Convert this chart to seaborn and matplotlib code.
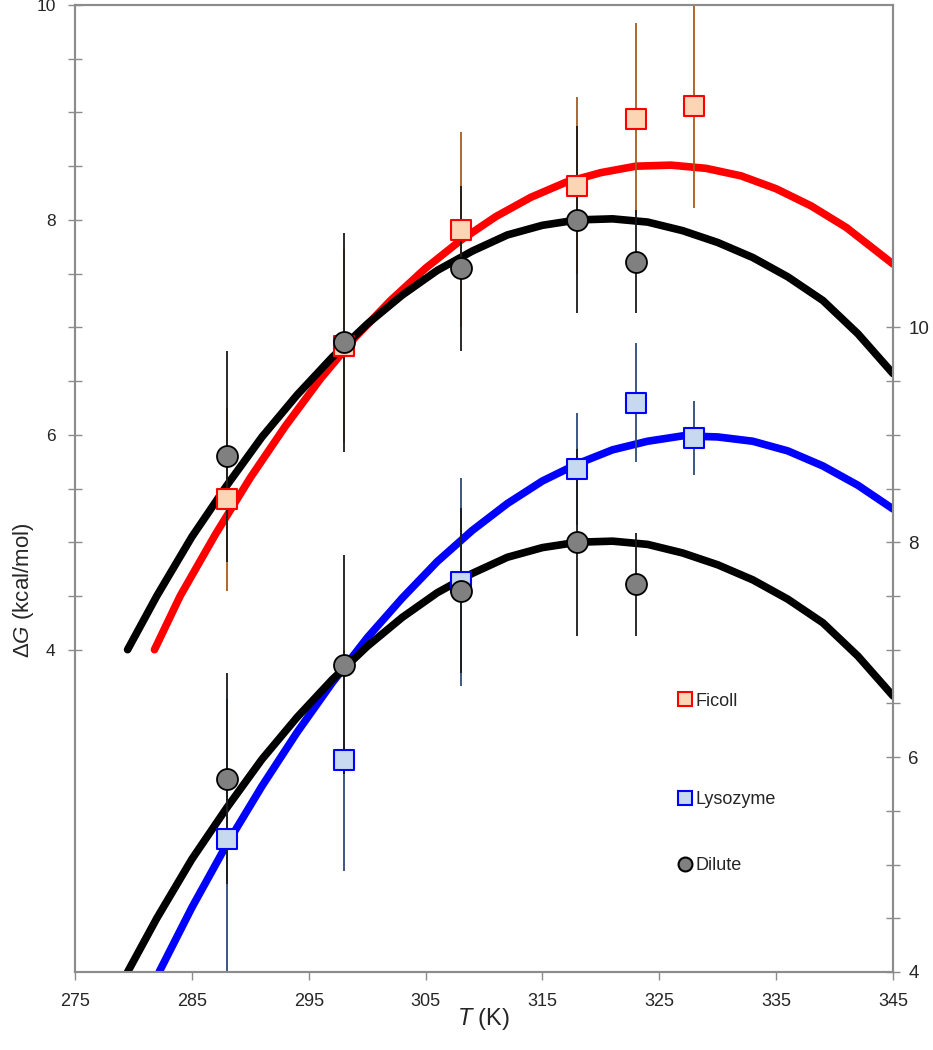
import matplotlib
matplotlib.use("Agg")
import numpy as np
import matplotlib.pyplot as plt
from matplotlib.lines import Line2D
from matplotlib.legend import Legend
from matplotlib.ticker import FixedLocator
import seaborn as sns

sns.set_theme(style="white")
plt.rcParams["font.family"] = ["Liberation Sans", "DejaVu Sans"]
plt.rcParams["mathtext.fontset"] = "custom"
plt.rcParams["mathtext.it"] = "Liberation Sans:italic"
plt.rcParams["mathtext.rm"] = "Liberation Sans"

# measured points (K, kcal/mol)
temps = [288, 298, 308, 318, 323, 328]
ficoll_dg = [5.40, 6.83, 7.91, 8.32, 8.94, 9.06]
ficoll_err = [0.85, 0.90, 0.91, 0.82, 0.89, 0.95]
lyso_dg = [5.24, 5.97, 7.63, 8.68, 9.30, 8.97]
lyso_err = [1.30, 1.03, 0.97, 0.52, 0.55, 0.34]
dilute_temps = [288, 298, 308, 318, 323]
dilute_dg = [5.80, 6.86, 7.55, 8.00, 7.61]
dilute_err = [0.98, 1.02, 0.77, 0.87, 0.48]

# fitted stability curves
ficoll_fit_t = [281.8, 284, 287, 290, 293, 296, 299, 302, 305, 308, 311,
                314, 317, 320, 323, 326, 329, 332, 335, 338, 341, 345]
ficoll_fit_dg = [4.00, 4.50, 5.07, 5.60, 6.08, 6.52, 6.91, 7.25, 7.55, 7.81, 8.03,
                 8.21, 8.35, 8.44, 8.50, 8.51, 8.48, 8.41, 8.29, 8.13, 7.93, 7.59]
lyso_fit_t = [282.2, 285, 288, 291, 294, 297, 300, 303, 306, 309, 312,
              315, 318, 321, 324, 327, 330, 333, 336, 339, 342, 345]
lyso_fit_dg = [4.00, 4.60, 5.19, 5.73, 6.23, 6.69, 7.11, 7.48, 7.82, 8.11, 8.36,
               8.57, 8.73, 8.86, 8.94, 8.99, 8.98, 8.94, 8.85, 8.71, 8.53, 8.31]
dilute_fit_t = [279.5, 282, 285, 288, 291, 294, 297, 300, 303, 306, 309, 312,
                315, 318, 321, 324, 327, 330, 333, 336, 339, 342, 345]
dilute_fit_dg = [4.00, 4.50, 5.05, 5.53, 5.98, 6.37, 6.72, 7.03, 7.30, 7.53, 7.71, 7.86,
                 7.95, 8.00, 8.01, 7.98, 7.90, 7.79, 7.65, 7.47, 7.25, 6.94, 6.57]

# colours
ficoll_face, ficoll_edge, ficoll_bar = "#FCD5B5", "#FF0000", "#A85A1C"
lyso_face, lyso_edge, lyso_bar = "#C6D9F1", "#0000FF", "#2E4A78"
dilute_face, dilute_bar = "#808080", "#1A1A1A"
axis_gray = "#8C8C8C"

fig = plt.figure(figsize=(9.33, 10.5), dpi=100)
ax = fig.add_axes([0.0804, 0.0743, 0.8767, 0.9209])
ax2 = ax.twinx()

line_kw = dict(lw=5.5, zorder=1, solid_joinstyle="round")

# upper set (left axis): Ficoll + dilute
sns.lineplot(x=ficoll_fit_t, y=ficoll_fit_dg, ax=ax, color="#FF0000", **line_kw)
sns.lineplot(x=dilute_fit_t, y=dilute_fit_dg, ax=ax, color="black", **line_kw)
ax.errorbar(temps, ficoll_dg, yerr=ficoll_err, fmt="none", ecolor=ficoll_bar,
            elinewidth=1.3, capsize=0, zorder=2)
ax.errorbar(dilute_temps, dilute_dg, yerr=dilute_err, fmt="none", ecolor=dilute_bar,
            elinewidth=1.3, capsize=0, zorder=3)
sns.scatterplot(x=temps, y=ficoll_dg, ax=ax, marker="s", s=228, color=ficoll_face,
                edgecolor=ficoll_edge, linewidth=1.5, zorder=4)
sns.scatterplot(x=dilute_temps, y=dilute_dg, ax=ax, marker="o", s=228, color=dilute_face,
                edgecolor="black", linewidth=1.3, zorder=5)

# lower set (right axis): Lysozyme + dilute
sns.lineplot(x=lyso_fit_t, y=lyso_fit_dg, ax=ax2, color="#0000FF", **line_kw)
sns.lineplot(x=dilute_fit_t, y=dilute_fit_dg, ax=ax2, color="black", **line_kw)
ax2.errorbar(temps, lyso_dg, yerr=lyso_err, fmt="none", ecolor=lyso_bar,
             elinewidth=1.3, capsize=0, zorder=2)
ax2.errorbar(dilute_temps, dilute_dg, yerr=dilute_err, fmt="none", ecolor=dilute_bar,
             elinewidth=1.3, capsize=0, zorder=3)
sns.scatterplot(x=temps, y=lyso_dg, ax=ax2, marker="s", s=228, color=lyso_face,
                edgecolor=lyso_edge, linewidth=1.5, zorder=4)
sns.scatterplot(x=dilute_temps, y=dilute_dg, ax=ax2, marker="o", s=228, color=dilute_face,
                edgecolor="black", linewidth=1.3, zorder=5)

# axes
ax.set_xlim(275, 345)
ax.set_xticks(np.arange(275, 346, 10))
ax.set_ylim(1, 10)
ax2.set_ylim(4, 13)
for a in (ax, ax2):
    a.yaxis.set_major_locator(FixedLocator([4, 6, 8, 10]))
    a.yaxis.set_minor_locator(FixedLocator(np.arange(4, 10.01, 0.5)))
    for s in a.spines.values():
        s.set_color(axis_gray)
        s.set_linewidth(1.5)

ax.tick_params(axis="y", which="both", left=True, direction="inout", length=10,
               width=1, color=axis_gray, labelsize=12.5, pad=9)
ax2.tick_params(axis="y", which="both", right=True, direction="inout", length=10,
                width=1, color=axis_gray, labelsize=13.5, pad=6)
ax.tick_params(axis="x", bottom=True, direction="out", length=6, width=1,
               color=axis_gray, labelsize=13, pad=9)

ax.set_xlabel(r"$T$ (K)", fontsize=17)
ax.xaxis.set_label_coords(0.5, -0.035)
ax.set_ylabel(r"Δ$G$ (kcal/mol)", fontsize=16)
ax.yaxis.set_label_coords(-0.048, 0.395)

# legend entries placed like the original
entries = [
    ("Ficoll", "s", ficoll_face, ficoll_edge, 0.280),
    ("Lysozyme", "s", lyso_face, lyso_edge, 0.178),
    ("Dilute", "o", dilute_face, "black", 0.110),
]
for name, mk, fc, ec, ypos in entries:
    h = Line2D([], [], marker=mk, ls="none", mfc=fc, mec=ec, ms=10, mew=1.5)
    leg = Legend(ax2, [h], [name], loc="center left",
                 bbox_to_anchor=(0.732, ypos), frameon=False, fontsize=13,
                 handletextpad=0.0, borderpad=0, borderaxespad=0, handlelength=1.2)
    ax2.add_artist(leg)

fig.savefig("out.png", dpi=100)
